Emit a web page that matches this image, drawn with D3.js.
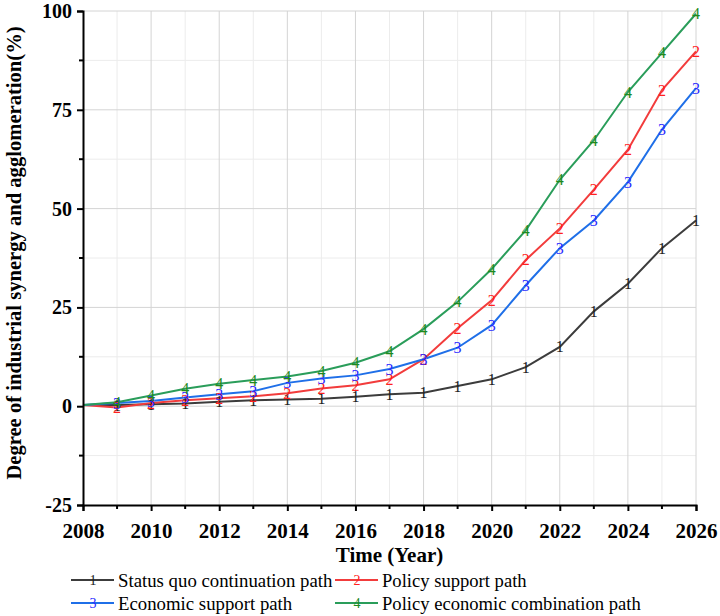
<!DOCTYPE html>
<html><head><meta charset="utf-8">
<script src="https://cdn.jsdelivr.net/npm/d3@7"></script>
<style>body{margin:0;background:#fff}svg{display:block}</style>
</head><body>
<svg id="c" width="720" height="616"></svg>
<script>
const years = [2008,2009,2010,2011,2012,2013,2014,2015,2016,2017,2018,2019,2020,2021,2022,2023,2024,2025,2026];
const statusQuo = [0.3,0.3,0.5,0.7,1.1,1.5,1.7,1.9,2.4,3.0,3.4,5.1,6.8,9.9,15.0,24.0,31.0,40.0,47.0];
const policySupport = [0.3,-0.3,0.8,1.5,2.0,2.5,3.3,4.5,5.3,6.8,11.9,19.7,26.8,37.0,45.0,54.8,64.9,80.0,89.8];
const economicSupport = [0.3,0.8,1.3,2.2,3.0,3.8,5.9,7.0,7.8,9.4,11.9,14.8,20.5,30.6,40.0,47.0,56.7,70.0,80.5];
const combination = [0.3,1.0,2.7,4.4,5.7,6.6,7.5,8.9,11.0,13.9,19.5,26.4,34.7,44.5,57.3,67.3,79.5,89.4,99.3];
const seriesNames = ["Status quo continuation path","Policy support path","Economic support path","Policy economic combination path"];
const markerLabels = ["1","2","3","4"];
const xTicks = [2008,2010,2012,2014,2016,2018,2020,2022,2024,2026];
const yTicks = [-25,0,25,50,75,100];

const lineColors = ["#3c3c3c","#f23c3c","#1f6fe8","#2a9d5a"];
const markColors = ["#222222","#ff2020","#2a2aff","#1e8a1e"];
const allSeries = [statusQuo, policySupport, economicSupport, combination];

const svg = d3.select("#c");
const x = d3.scaleLinear().domain([2008,2026]).range([83,696]);
const y = d3.scaleLinear().domain([-25,100]).range([505,11]);
const serif = "'Liberation Serif','Times New Roman',serif";

// grid
const g = svg.append("g");
const minorX = d3.range(2009,2026,2);
const minorY = d3.range(-12.5,100,25);
g.selectAll(".mx").data(minorX).enter().append("line")
  .attr("x1",d=>x(d)).attr("x2",d=>x(d)).attr("y1",y(-25)).attr("y2",y(100))
  .attr("stroke","#ececec").attr("stroke-width",1);
g.selectAll(".my").data(minorY).enter().append("line")
  .attr("y1",d=>y(d)).attr("y2",d=>y(d)).attr("x1",x(2008)).attr("x2",x(2026))
  .attr("stroke","#ececec").attr("stroke-width",1);
g.selectAll(".gx").data(xTicks.slice(1)).enter().append("line")
  .attr("x1",d=>x(d)).attr("x2",d=>x(d)).attr("y1",y(-25)).attr("y2",y(100))
  .attr("stroke","#d4d4d4").attr("stroke-width",1);
g.selectAll(".gy").data(yTicks.slice(1)).enter().append("line")
  .attr("y1",d=>y(d)).attr("y2",d=>y(d)).attr("x1",x(2008)).attr("x2",x(2026))
  .attr("stroke","#d4d4d4").attr("stroke-width",1);

// lines
const line = d3.line().x((d,i)=>x(years[i])).y(d=>y(d));
allSeries.forEach((s,k)=>{
  svg.append("path").datum(s).attr("d",line).attr("fill","none")
    .attr("stroke",lineColors[k]).attr("stroke-width",2);
});
allSeries.forEach((s,k)=>{
  svg.append("g").selectAll("text").data(s.slice(1)).enter().append("text")
    .attr("x",(d,i)=>x(years[i+1])).attr("y",d=>y(d))
    .attr("text-anchor","middle").attr("dominant-baseline","central")
    .attr("font-family",serif).attr("font-size",16)
    .attr("fill",markColors[k]).text(markerLabels[k]);
});

// axes
const xAxis = d3.axisBottom(x).tickValues(xTicks).tickFormat(d=>String(d)).tickSize(6).tickPadding(4);
const xg = svg.append("g").attr("transform",`translate(0,${y(-25)})`).call(xAxis);
svg.append("g").attr("transform",`translate(0,${y(-25)})`)
  .selectAll("line").data(minorX).enter().append("line")
  .attr("x1",d=>x(d)).attr("x2",d=>x(d)).attr("y1",0).attr("y2",4)
  .attr("stroke","#000").attr("stroke-width",2);
const yAxis = d3.axisLeft(y).tickValues(yTicks).tickFormat(d=>String(d)).tickSize(6).tickPadding(5);
const yg = svg.append("g").attr("transform",`translate(${x(2008)},0)`).call(yAxis);
svg.append("g").attr("transform",`translate(${x(2008)},0)`)
  .selectAll("line").data(minorY).enter().append("line")
  .attr("y1",d=>y(d)).attr("y2",d=>y(d)).attr("x1",0).attr("x2",-4)
  .attr("stroke","#000").attr("stroke-width",2);
[xg,yg].forEach(a=>{
  a.select(".domain").attr("stroke","#000").attr("stroke-width",2);
  a.selectAll(".tick line").attr("stroke","#000").attr("stroke-width",2);
  a.selectAll("text").attr("font-family",serif)
    .attr("font-weight","bold").attr("fill","#000");
});
xg.selectAll("text").attr("font-size",21).attr("dy",null).attr("y",null)
  .attr("transform","translate(0,26)").attr("dominant-baseline","central");
yg.selectAll("text").attr("font-size",20);

// titles
svg.append("text").attr("x",(x(2008)+x(2026))/2).attr("y",555)
  .attr("text-anchor","middle").attr("dominant-baseline","central")
  .attr("font-family",serif).attr("font-size",21)
  .attr("font-weight","bold").text("Time (Year)");
svg.append("text").attr("transform",`translate(14,253) rotate(-90)`)
  .attr("text-anchor","middle").attr("dominant-baseline","central")
  .attr("font-family",serif).attr("font-size",20.6)
  .attr("font-weight","bold").text("Degree of industrial synergy and agglomeration(%)");

// legend
const legPos = [[71,580,18.8],[335,580,18.6],[71,603,18.8],[335,603,18.6]];
seriesNames.forEach((n,k)=>{
  const [lx,ly,fs] = legPos[k];
  const lg = svg.append("g").attr("transform",`translate(${lx},${ly})`);
  lg.append("line").attr("x1",0).attr("x2",43).attr("y1",0).attr("y2",0)
    .attr("stroke",lineColors[k]).attr("stroke-width",2);
  lg.append("text").attr("x",22).attr("y",0).attr("text-anchor","middle")
    .attr("dominant-baseline","central").attr("font-family",serif).attr("font-size",14)
    .attr("fill",markColors[k]).text(markerLabels[k]);
  lg.append("text").attr("x",47).attr("y",0).attr("dominant-baseline","central")
    .attr("font-family",serif).attr("font-size",fs).attr("fill","#000").text(n);
});
</script>
</body></html>
